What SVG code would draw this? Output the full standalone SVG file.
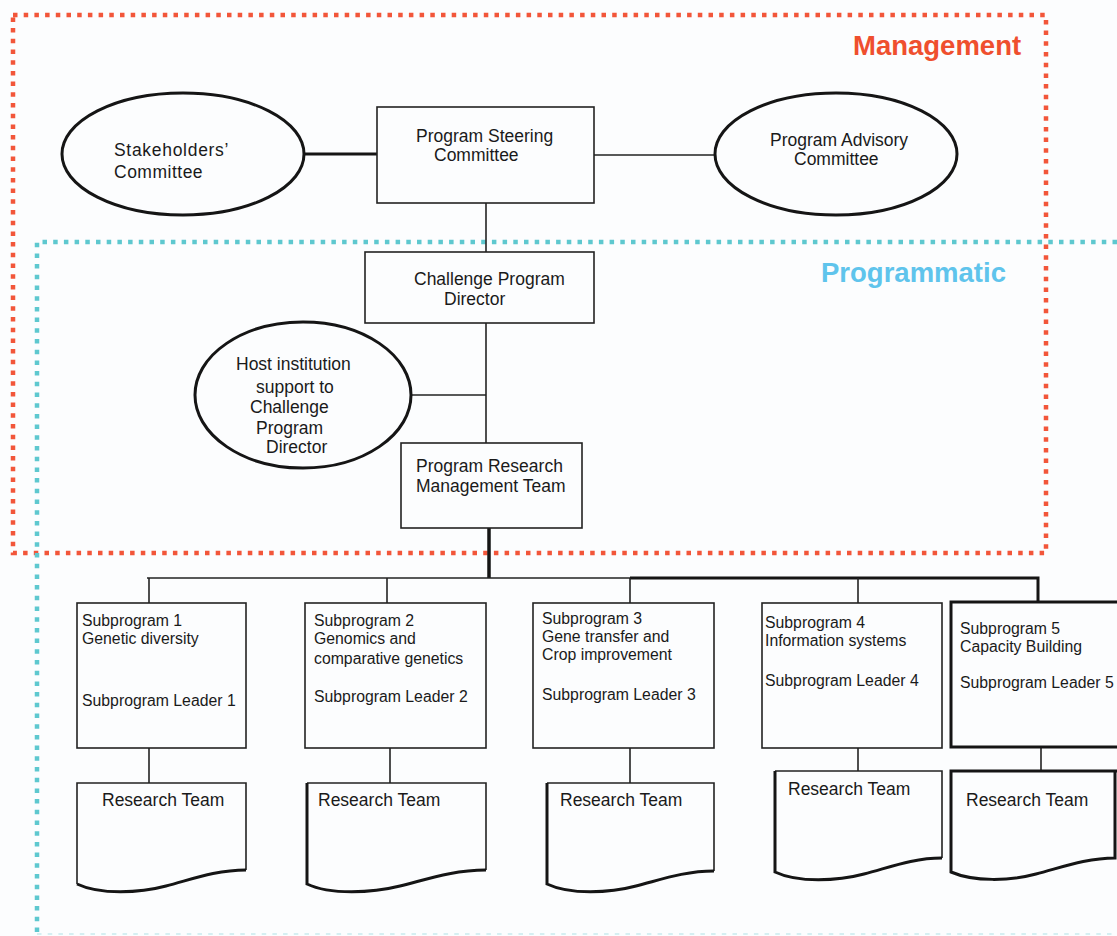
<svg xmlns="http://www.w3.org/2000/svg" width="1117" height="936" viewBox="0 0 1117 936">
<defs>
<style>
.t{font-family:"Liberation Sans",Arial,sans-serif;font-size:17.5px;fill:#1a1a1a}
.s{font-family:"Liberation Sans",Arial,sans-serif;font-size:15.8px;fill:#1a1a1a}
.box{fill:none;stroke:#222;stroke-width:1.6}
.thick{fill:none;stroke:#151515;stroke-width:3}
.ell{fill:none;stroke:#151515;stroke-width:3}
.ln{fill:none;stroke:#222;stroke-width:1.6}
.doc{fill:none;stroke:#222;stroke-width:1.6;stroke-linejoin:miter}
.docb{fill:none;stroke:#151515;stroke-width:3}
</style>
</defs>
<rect x="0" y="0" width="1117" height="936" fill="#fcfdfe"/>

<g id="region-management">
<rect x="13" y="15" width="1033" height="538" fill="none" stroke="#f2563a" stroke-width="4.5" stroke-dasharray="4.5 6.2"/>
<text x="853" y="55" font-family="'Liberation Sans',Arial,sans-serif" font-size="27.5" font-weight="bold" fill="#ef4f2e">Management</text>
</g>
<g id="region-programmatic">
<path d="M1117,242 H37 V934" fill="none" stroke="#5ec8cf" stroke-width="4.5" stroke-dasharray="4.5 6.2"/>
<path d="M37,934 H1117" fill="none" stroke="#5ec8cf" stroke-width="2" stroke-dasharray="4.5 6.2" opacity="0.25"/>
<text x="821" y="282" font-family="'Liberation Sans',Arial,sans-serif" font-size="27.5" font-weight="bold" fill="#5fc4ec">Programmatic</text>
</g>

<g id="connectors">
<path class="thick" d="M303,154 H377"/>
<path class="ln" d="M594,155 H715"/>
<path class="ln" d="M486,203 V252"/>
<path class="ln" d="M486,323 V443"/>
<path class="ln" d="M411,395 H486"/>
<path fill="none" stroke="#151515" stroke-width="3.5" d="M489,528 V578"/>
<path class="ln" d="M147,578 H630"/>
<path class="thick" d="M630,578 H1038 V602"/>
<path class="ln" d="M149,578 V603"/>
<path class="ln" d="M387,578 V603"/>
<path class="ln" d="M630,578 V603"/>
<path class="ln" d="M858,578 V603"/>
<path class="ln" d="M149,748 V783"/>
<path class="ln" d="M390,748 V783"/>
<path class="ln" d="M630,748 V783"/>
<path class="ln" d="M858,748 V771"/>
<path class="ln" d="M1041,747 V771"/>
</g>

<g id="stakeholders">
<ellipse class="ell" cx="183" cy="154" rx="121" ry="61"/>
<text class="t" x="114" y="156" letter-spacing="0.7">Stakeholders’</text>
<text class="t" x="114" y="178" letter-spacing="0.5">Committee</text>
</g>

<g id="steering">
<rect class="box" x="377" y="107" width="217" height="96"/>
<text class="t" x="416" y="142">Program Steering</text>
<text class="t" x="434" y="161">Committee</text>
</g>

<g id="advisory">
<ellipse class="ell" cx="836" cy="154" rx="121" ry="61"/>
<text class="t" x="770" y="146">Program Advisory</text>
<text class="t" x="794" y="165">Committee</text>
</g>

<g id="director">
<rect class="box" x="365" y="252" width="229" height="71"/>
<text class="t" x="414" y="285">Challenge Program</text>
<text class="t" x="444" y="305">Director</text>
</g>

<g id="host">
<ellipse class="ell" cx="303" cy="395" rx="108" ry="73"/>
<text class="t" x="236" y="370">Host institution</text>
<text class="t" x="256" y="393">support to</text>
<text class="t" x="250" y="413">Challenge</text>
<text class="t" x="256" y="434">Program</text>
<text class="t" x="266" y="453">Director</text>
</g>

<g id="prmt">
<rect class="box" x="401" y="443" width="181" height="85"/>
<text class="t" x="416" y="472">Program Research</text>
<text class="t" x="416" y="492">Management Team</text>
</g>

<g id="sub1">
<rect class="box" x="77" y="603" width="169" height="145"/>
<text class="s" x="82" y="626">Subprogram 1</text>
<text class="s" x="82" y="644">Genetic diversity</text>
<text class="s" x="82" y="706">Subprogram Leader 1</text>
</g>
<g id="sub2">
<rect class="box" x="305" y="603" width="181" height="145"/>
<text class="s" x="314" y="626">Subprogram 2</text>
<text class="s" x="314" y="644">Genomics and</text>
<text class="s" x="314" y="664">comparative genetics</text>
<text class="s" x="314" y="702">Subprogram Leader 2</text>
</g>
<g id="sub3">
<rect class="box" x="533" y="603" width="181" height="145"/>
<text class="s" x="542" y="624">Subprogram 3</text>
<text class="s" x="542" y="642">Gene transfer and</text>
<text class="s" x="542" y="660">Crop improvement</text>
<text class="s" x="542" y="700">Subprogram Leader 3</text>
</g>
<g id="sub4">
<rect class="box" x="762" y="603" width="180" height="145"/>
<text class="s" x="765" y="628">Subprogram 4</text>
<text class="s" x="765" y="646">Information systems</text>
<text class="s" x="765" y="686">Subprogram Leader 4</text>
</g>
<g id="sub5">
<rect class="thick" x="951" y="602" width="180" height="145"/>
<text class="s" x="960" y="634">Subprogram 5</text>
<text class="s" x="960" y="652">Capacity Building</text>
<text class="s" x="960" y="688">Subprogram Leader 5</text>
</g>

<g id="team1">
<path class="doc" d="M77,884 V783 H246 V870"/>
<path class="docb" d="M246,870 C215,870 190,880 166,886 C140,893 100,895 77,884"/>
<text class="t" x="102" y="806">Research Team</text>
</g>
<g id="team2">
<path class="doc" d="M307,783 H486 V870"/>
<path class="docb" d="M307,783 V884 C330,895 372,893 400,886 C425,880 452,870 486,870"/>
<text class="t" x="318" y="806">Research Team</text>
</g>
<g id="team3">
<path class="doc" d="M547,783 H714 V871"/>
<path class="docb" d="M547,783 V884 C570,895 610,893 636,886 C660,880 684,871 714,871"/>
<text class="t" x="560" y="806">Research Team</text>
</g>
<g id="team4">
<path class="doc" d="M775,771 H942 V858"/>
<path class="docb" d="M775,771 V872 C798,883 838,881 864,874 C888,868 912,858 942,858"/>
<text class="t" x="788" y="795">Research Team</text>
</g>
<g id="team5">
<path class="docb" d="M1117,771 H951 V872 C974,882 1010,881 1036,874 C1060,868 1086,858 1115,858 V771"/>
<text class="t" x="966" y="806">Research Team</text>
</g>
</svg>
